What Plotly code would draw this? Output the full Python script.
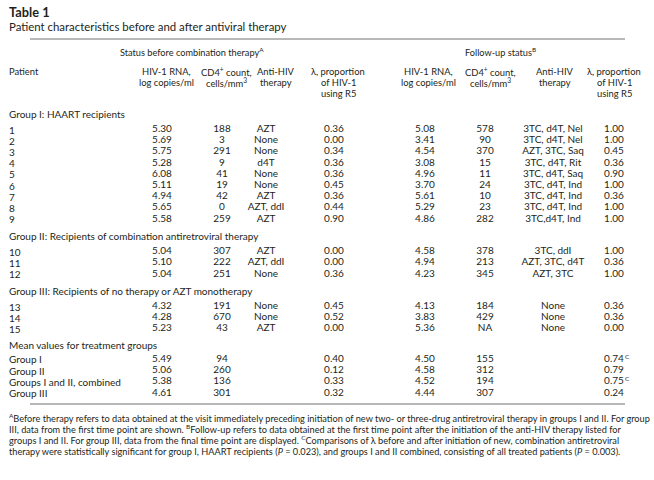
import plotly.graph_objects as go

# ---------------- data ----------------
title = "Table 1"
subtitle = "Patient characteristics before and after antiviral therapy"

group_titles = ["Group I: HAART recipients",
                "Group II: Recipients of combination antiretroviral therapy",
                "Group III: Recipients of no therapy or AZT monotherapy"]
group_sizes = [9, 3, 3]

patients = [str(i) for i in range(1, 16)]
rna_before = ["5.30", "5.69", "5.75", "5.28", "6.08", "5.11", "4.94", "5.65", "5.58",
              "5.04", "5.10", "5.04", "4.32", "4.28", "5.23"]
cd4_before = ["188", "3", "291", "9", "41", "19", "42", "0", "259",
              "307", "222", "251", "191", "670", "43"]
therapy_before = ["AZT", "None", "None", "d4T", "None", "None", "AZT", "AZT, ddI", "AZT",
                  "AZT", "AZT, ddI", "None", "None", "None", "AZT"]
lambda_before = ["0.36", "0.00", "0.34", "0.36", "0.36", "0.45", "0.36", "0.44", "0.90",
                 "0.00", "0.00", "0.36", "0.45", "0.52", "0.00"]
rna_after = ["5.08", "3.41", "4.54", "3.08", "4.96", "3.70", "5.61", "5.29", "4.86",
             "4.58", "4.94", "4.23", "4.13", "3.83", "5.36"]
cd4_after = ["578", "90", "370", "15", "11", "24", "10", "23", "282",
             "378", "213", "345", "184", "429", "NA"]
therapy_after = ["3TC, d4T, Nel", "3TC, d4T, Nel", "AZT, 3TC, Saq", "3TC, d4T, Rit",
                 "3TC, d4T, Saq", "3TC, d4T, Ind", "3TC, d4T, Ind", "3TC, d4T, Ind",
                 "3TC,d4T, Ind", "3TC, ddI", "AZT, 3TC, d4T", "AZT, 3TC",
                 "None", "None", "None"]
lambda_after = ["1.00", "1.00", "0.45", "0.36", "0.90", "1.00", "0.36", "1.00", "1.00",
                "1.00", "0.36", "1.00", "0.36", "0.36", "0.00"]

mean_title = "Mean values for treatment groups"
mean_labels = ["Group I", "Group II", "Groups I and II, combined", "Group III"]
mean_rna_before = ["5.49", "5.06", "5.38", "4.61"]
mean_cd4_before = ["94", "260", "136", "301"]
mean_lambda_before = ["0.40", "0.12", "0.33", "0.32"]
mean_rna_after = ["4.50", "4.58", "4.52", "4.44"]
mean_cd4_after = ["155", "312", "194", "307"]
mean_lambda_after = ["0.74", "0.79", "0.75", "0.24"]
mean_lambda_after_note = ["C", "", "C", ""]

span_headers = ["Status before combination therapy<sup>A</sup>", "Follow-up status<sup>B</sup>"]
col_headers = [["HIV-1 RNA,", "log copies/ml"],
               ["CD4<sup>+</sup> count,", "cells/mm<sup>3</sup>"],
               ["Anti-HIV", "therapy"],
               ["λ, proportion", "of HIV-1", "using R5"]]
footnotes = [
    "<sup>A</sup>Before therapy refers to data obtained at the visit immediately preceding initiation of new two- or three-drug antiretroviral therapy in groups I and II. For group",
    "III, data from the first time point are shown. <sup>B</sup>Follow-up refers to data obtained at the first time point after the initiation of the anti-HIV therapy listed for",
    "groups I and II. For group III, data from the final time point are displayed. <sup>C</sup>Comparisons of λ before and after initiation of new, combination antiretroviral",
    "therapy were statistically significant for group I, HAART recipients (<i>P</i> = 0.023), and groups I and II combined, consisting of all treated patients (<i>P</i> = 0.003).",
]

# ---------------- layout constants ----------------
W, H = 654, 480
FONT = "Lato, 'Open Sans', sans-serif"
TXT = "#231f20"
BODY = 10.0
HEAD = 9.4
LEFT = 7
col_x = [162, 222, 266, 334, 425, 485, 553, 614]
hdr_x = [166, 226, 276, 338, 428, 490, 555, 614]
span_x = [192, 500]
row_h = 11.2
head_gap = 16
after_gap = 16.5
mean_gap = 14
y_group0 = 113.5
hdr_line_y = [71.5, 82.5, 93.5]

fig = go.Figure()
ann = []

def add_text(text, x, y, size=BODY, bold=False, anchor="left"):
    ann.append(dict(x=x, y=y, xref="x", yref="y", text=(f"<b>{text}</b>" if bold else text),
                    showarrow=False, xanchor=anchor, yanchor="middle", align=anchor,
                    font=dict(family=FONT, size=size, color=TXT)))

# row positions
row_y = []
head_y = []
y = y_group0
for g, n in zip(group_titles, group_sizes):
    head_y.append(y)
    ys = [y + head_gap + i * row_h for i in range(n)]
    row_y.extend(ys)
    y = ys[-1] + after_gap
mean_head_y = y
mean_y = [y + mean_gap + i * row_h for i in range(len(mean_labels))]

# titles
add_text(title, LEFT, 12, size=12.8, bold=True)
add_text(subtitle, LEFT, 26.5, size=11.4)

# span headers
for sx, t in zip(span_x, span_headers):
    add_text(t, sx, 52, size=9.2, anchor="center")

# column headers
add_text("Patient", LEFT, hdr_line_y[0], size=HEAD)
for i, hx in enumerate(hdr_x):
    for j, line in enumerate(col_headers[i % 4]):
        add_text(line, hx, hdr_line_y[j], size=HEAD, anchor="center")

# group headings and patient labels
for g, hy in zip(group_titles, head_y):
    add_text(g, LEFT, hy)
for p, ry in zip(patients, row_y):
    add_text(p, LEFT, ry)
add_text(mean_title, LEFT, mean_head_y)
for m, my in zip(mean_labels, mean_y):
    add_text(m, LEFT, my)

# data columns as text traces
cols = [rna_before, cd4_before, therapy_before, lambda_before,
        rna_after, cd4_after, therapy_after, lambda_after]
mean_cols = [mean_rna_before, mean_cd4_before, None, mean_lambda_before,
             mean_rna_after, mean_cd4_after, None, mean_lambda_after]
for cx, vals, mvals in zip(col_x, cols, mean_cols):
    xs = [cx] * len(vals)
    ys = list(row_y)
    txt = list(vals)
    if mvals is not None:
        xs += [cx] * len(mvals)
        ys += mean_y
        txt += mvals
    fig.add_trace(go.Scatter(x=xs, y=ys, text=txt, mode="text", textposition="middle center",
                             textfont=dict(family=FONT, size=BODY, color=TXT),
                             hoverinfo="skip", showlegend=False))

# significance markers after mean λ values
for note, my in zip(mean_lambda_after_note, mean_y):
    if note:
        add_text(note, col_x[7] + 8.5, my - 3, size=6.5)

# footnotes
for i, f in enumerate(footnotes):
    add_text(f, LEFT, 418 + i * 11, size=9.2)

shapes = [
    dict(type="line", xref="x", yref="y", x0=30, x1=625, y0=39, y1=39,
         line=dict(color="#a0a0a0", width=1.6)),
    dict(type="line", xref="x", yref="y", x0=30, x1=625, y0=404, y1=404,
         line=dict(color="#a0a0a0", width=1.6)),
]

fig.update_layout(
    width=W, height=H, margin=dict(l=0, r=0, t=0, b=0),
    paper_bgcolor="white", plot_bgcolor="white",
    xaxis=dict(range=[0, W], visible=False, fixedrange=True),
    yaxis=dict(range=[H, 0], visible=False, fixedrange=True),
    annotations=ann, shapes=shapes,
)
fig.write_html("out.html", config={"displayModeBar": False},
               post_script="document.body.style.margin='0';document.body.style.overflow='hidden';")
